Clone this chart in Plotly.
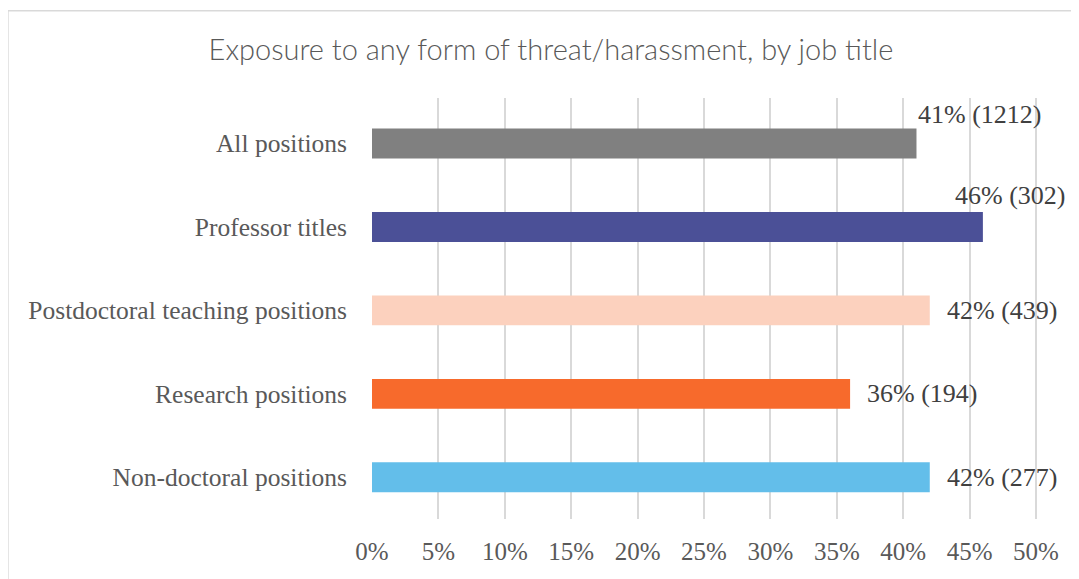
import plotly.graph_objects as go

categories = ["All positions", "Professor titles", "Postdoctoral teaching positions",
              "Research positions", "Non-doctoral positions"]
values = [41, 46, 42, 36, 42]
counts = [1212, 302, 439, 194, 277]
colors = ["#808080", "#4B5097", "#FCD1BE", "#F76A2C", "#63BEEA"]
tick_vals = [0, 5, 10, 15, 20, 25, 30, 35, 40, 45, 50]
tick_text = ["0%", "5%", "10%", "15%", "20%", "25%", "30%", "35%", "40%", "45%", "50%"]

# label placement style (Excel moved the first two labels above the bar)
label_offsets = {0: (0, 29), 1: (-30, 31)}

fig = go.Figure()
fig.add_trace(go.Bar(
    y=categories, x=values, orientation="h",
    marker=dict(color=colors, line=dict(width=0)),
    width=0.358, hoverinfo="skip",
))

serif = "Liberation Serif, serif"
for i, (c, v, n) in enumerate(zip(categories, values, counts)):
    dx, dy = label_offsets.get(i, (15, 0))
    fig.add_annotation(x=v, y=c, text=f"{v}% ({n})", showarrow=False,
                       xanchor="left", yanchor="middle", xshift=dx, yshift=dy,
                       font=dict(family=serif, size=26, color="#404040"))

fig.update_layout(
    width=1071, height=571,
    margin=dict(l=364, r=39, t=90, b=60),
    paper_bgcolor="white", plot_bgcolor="white",
    showlegend=False,
    title=dict(text="Exposure to any form of threat/harassment, by job title",
               x=0.507, xanchor="center", xref="container",
               y=0.926, yanchor="middle", yref="container",
               font=dict(family="Lato", size=29, color="#595959", weight=300)),
    xaxis=dict(range=[0, 50.3], tickvals=tick_vals, ticktext=tick_text,
               showgrid=True, gridcolor="rgba(0,0,0,0.15)", gridwidth=1.5,
               zeroline=False, showline=False, ticks="",
               ticklabelstandoff=15, layer="above traces",
               tickfont=dict(family=serif, size=25, color="#595959")),
    yaxis=dict(categoryorder="array", categoryarray=categories[::-1],
               showgrid=False, zeroline=False, showline=False, ticks="",
               ticklabelstandoff=24,
               tickfont=dict(family=serif, size=25.5, color="#595959")),
)

# outer chart border (left and top edges visible)
fig.add_shape(type="line", xref="paper", yref="paper",
              x0=-0.545, x1=-0.545, y0=-0.2, y1=1.207,
              line=dict(color="#d9d9d9", width=1.5))
fig.add_shape(type="line", xref="paper", yref="paper",
              x0=-0.545, x1=1.07, y0=1.207, y1=1.207,
              line=dict(color="#d9d9d9", width=1.5))

fig.write_html("out.html")
